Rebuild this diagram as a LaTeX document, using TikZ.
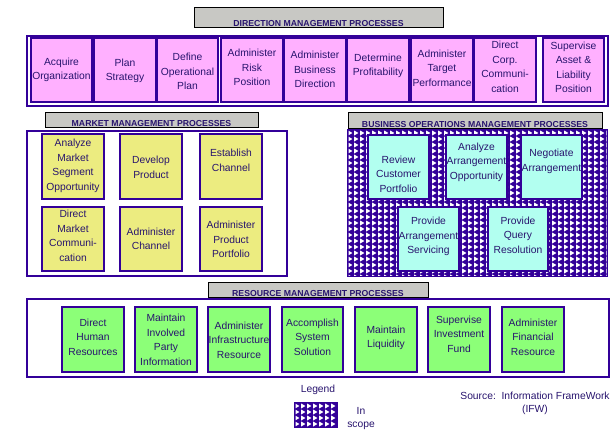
\documentclass[tikz,border=0pt]{standalone}
\usepackage{fontspec}
\setmainfont{Liberation Sans}
\usetikzlibrary{fit}

\definecolor{navy}{RGB}{51,0,153}
\definecolor{txtc}{RGB}{40,20,110}
\definecolor{hdrgray}{RGB}{200,200,196}
\definecolor{pinkp}{RGB}{255,176,255}
\definecolor{yellowp}{RGB}{236,236,128}
\definecolor{cyanp}{RGB}{178,255,240}
\definecolor{greenp}{RGB}{140,255,120}

% process box: style, name, x1, y1, x2, y2, text y, text
\newcommand\procbox[8]{%
  \node[#1, fit={(#3,#4) (#5,#6)}] (#2) {};
  \node[ptext] (#2-t) at (#2.center |- 0,#7) {#8};}

% group header: name, x1, y1, x2, y2, text
\newcommand\grouphdr[6]{%
  \node[header, fit={(#2,#3) (#4,#5)}] (#1) {};
  \node[hdrtext] (#1-t) at (#1.south |- 0,#5-0.6) {#6};}

% "in scope" area: navy ground with columns of white right-pointing triangles
\newcommand\scopearea[5]{%
  \node[scopeframe, fit={(#2,#3) (#4,#5)}] (#1) {};
  \begin{scope}
    \clip (#2+1.5,#3+1.5) rectangle (#4-1.5,#5-1.5);
    \pgfmathtruncatemacro\ncols{(#4-#2)/6}
    \pgfmathtruncatemacro\nrows{(#5-#3)/6}
    \foreach \c in {0,...,\ncols}{
      \foreach \r in {0,...,\nrows}{
        \fill[white] ({#2+1.2+\c*6},{#3+1.5+\r*6}) -- ++(4.2,2.5) -- ++(-4.2,2.5) -- cycle;
      }
    }
  \end{scope}}

\begin{document}
\begin{tikzpicture}[x=1pt, y=-1pt,
  frame/.style={draw=navy, line width=1.3pt, inner sep=0pt},
  scopeframe/.style={inner sep=0pt, fill=navy},
  header/.style={draw=black, line width=0.9pt, fill=hdrgray, inner sep=0pt},
  hdrtext/.style={font=\fontsize{8.7}{10}\selectfont\bfseries, text=txtc, inner sep=0pt, anchor=base},
  proc/.style={draw=navy, line width=1.3pt, inner sep=0pt},
  dirp/.style={proc, fill=pinkp},
  mktp/.style={proc, fill=yellowp},
  opsp/.style={proc, fill=cyanp},
  resp/.style={proc, fill=greenp},
  ptext/.style={align=center, font=\fontsize{10.3}{14.5}\selectfont, text=txtc, inner sep=0pt},
  note/.style={align=center, font=\fontsize{10.3}{13}\selectfont, text=txtc, inner sep=0pt}]

\useasboundingbox[fill=white] (0,0) rectangle (616,440);

% ---- direction management
\node[frame, fit={(27,36) (608,106)}] (dirframe) {};
\grouphdr{dirhdr}{194}{7}{443}{27}{DIRECTION MANAGEMENT PROCESSES}
\procbox{dirp}{acq}{31}{38}{92}{102}{70}{Acquire\\Organization}
\procbox{dirp}{plan}{94}{38}{156}{102}{71}{Plan\\Strategy}
\procbox{dirp}{defop}{157}{38}{218}{102}{71.5}{Define\\Operational\\Plan}
\procbox{dirp}{risk}{221}{38}{283}{102}{67.5}{Administer\\Risk\\Position}
\procbox{dirp}{bizdir}{284}{38}{346}{102}{69.5}{Administer\\Business\\Direction}
\procbox{dirp}{profit}{347}{38}{409}{102}{66}{Determine\\Profitability}
\procbox{dirp}{target}{411}{38}{473}{102}{68}{Administer\\Target\\Performance}
\procbox{dirp}{corp}{474}{38}{536}{102}{67}{Direct\\Corp.\\Communi-\\cation}
\procbox{dirp}{asset}{543}{38}{604}{102}{67.5}{Supervise\\Asset \&\\Liability\\Position}

% ---- market management
\node[frame, fit={(27,131) (287,276)}] (mktframe) {};
\grouphdr{mkthdr}{45}{112}{258}{127}{MARKET MANAGEMENT PROCESSES}
\procbox{mktp}{mseg}{42}{134}{104}{199}{166}{Analyze\\Market\\Segment\\Opportunity}
\procbox{mktp}{devprod}{120}{134}{182}{199}{167.5}{Develop\\Product}
\procbox{mktp}{estch}{200}{134}{262}{199}{160.5}{Establish\\Channel}
\procbox{mktp}{dmc}{42}{207}{104}{271}{236}{Direct\\Market\\Communi-\\cation}
\procbox{mktp}{admch}{120}{207}{182}{271}{239}{Administer\\Channel}
\procbox{mktp}{admpp}{200}{207}{262}{271}{239.5}{Administer\\Product\\Portfolio}

% ---- business operations management (in scope)
\scopearea{opsframe}{347}{129}{608}{277}
\grouphdr{opshdr}{348}{112}{602}{128}{BUSINESS OPERATIONS MANAGEMENT PROCESSES}
\procbox{opsp}{rcp}{368}{135}{429}{199}{174}{Review\\Customer\\Portfolio}
\procbox{opsp}{aao}{446}{135}{507}{199}{162}{Analyze\\Arrangement\\Opportunity}
\procbox{opsp}{neg}{521}{135}{582}{199}{161.5}{Negotiate\\Arrangement}
\procbox{opsp}{pas}{398}{207}{459}{271}{236.5}{Provide\\Arrangement\\Servicing}
\procbox{opsp}{pqr}{488}{207}{548}{271}{235}{Provide\\Query\\Resolution}

% ---- resource management
\node[frame, fit={(27,299) (609,377)}] (resframe) {};
\grouphdr{reshdr}{208}{282}{428}{297}{RESOURCE MANAGEMENT PROCESSES}
\procbox{resp}{dhr}{62}{307}{124}{372}{337}{Direct\\Human\\Resources}
\procbox{resp}{mipi}{135}{307}{197}{372}{340}{Maintain\\Involved\\Party\\Information}
\procbox{resp}{air}{208}{307}{270}{372}{340}{Administer\\Infrastructure\\Resource}
\procbox{resp}{ass}{282}{307}{343}{372}{337}{Accomplish\\System\\Solution}
\procbox{resp}{mliq}{355}{307}{417}{372}{338}{Maintain\\Liquidity}
\procbox{resp}{sif}{428}{307}{490}{372}{334}{Supervise\\Investment\\Fund}
\procbox{resp}{afr}{502}{307}{564}{372}{337}{Administer\\Financial\\Resource}

% ---- legend and source
\node[note] (legend) at (318,390) {Legend};
\scopearea{legbox}{294}{402}{338}{428}
\node[note] (legtext) at (361,419) {In\\scope};
\node[note] (source) at (535,403.5) {Source:\ \ Information FrameWork\\(IFW)};
\end{tikzpicture}
\end{document}
